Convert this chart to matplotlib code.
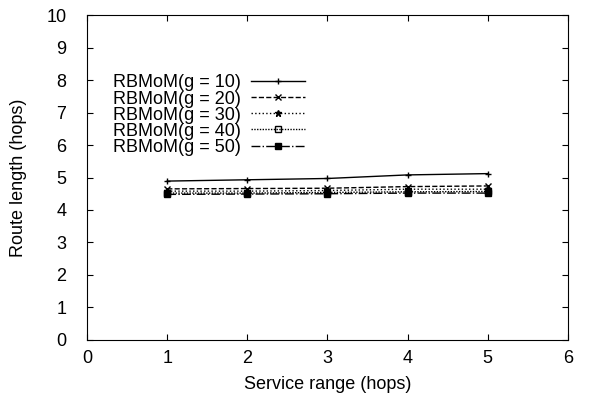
import matplotlib
matplotlib.use("Agg")
import matplotlib.pyplot as plt

plt.rcParams['font.family'] = ['Liberation Sans', 'DejaVu Sans']

# Données
service_range = [1, 2, 3, 4, 5]
g10 = [4.89, 4.93, 4.97, 5.08, 5.12]
g20 = [4.65, 4.66, 4.67, 4.72, 4.74]
g30 = [4.58, 4.58, 4.60, 4.64, 4.64]
g40 = [4.52, 4.52, 4.54, 4.56, 4.57]
g50 = [4.48, 4.49, 4.50, 4.52, 4.52]
labels = ["RBMoM(g = 10)", "RBMoM(g = 20)", "RBMoM(g = 30)",
          "RBMoM(g = 40)", "RBMoM(g = 50)"]

series = [g10, g20, g30, g40, g50]
styles = [('-', '+', 'full'), ('--', 'x', 'full'), (':', '*', 'full'),
          ((0, (1, 1)), 's', 'none'), ('-.', 's', 'full')]

fig = plt.figure(figsize=(5.97, 3.98), dpi=100)
ax = fig.add_axes([0.146, 0.146, 0.805, 0.816])

for s, lab, (ls, mk, fill) in zip(series, labels, styles):
    ax.plot(service_range, s, color='black', linestyle=ls, linewidth=1,
            marker=mk, markersize=5, fillstyle=fill, markeredgewidth=1,
            label=lab)

ax.set_xlim(0, 6)
ax.set_ylim(0, 10)
ax.set_xticks(range(0, 7))
ax.set_yticks(range(0, 11))
ax.tick_params(direction='in', top=True, right=True, labelsize=13, length=4)
ax.tick_params(axis='x', pad=7)
ax.tick_params(axis='y', pad=15)
ax.set_xlabel("Service range (hops)", fontsize=13, labelpad=7)
ax.set_ylabel("Route length (hops)", fontsize=13, labelpad=14)

ax.legend(loc='upper left', bbox_to_anchor=(0.035, 0.845), frameon=False,
          markerfirst=False, fontsize=13, handlelength=3.0,
          labelspacing=-0.05, borderpad=0, handletextpad=0.55)

plt.savefig("out.png", dpi=100)
